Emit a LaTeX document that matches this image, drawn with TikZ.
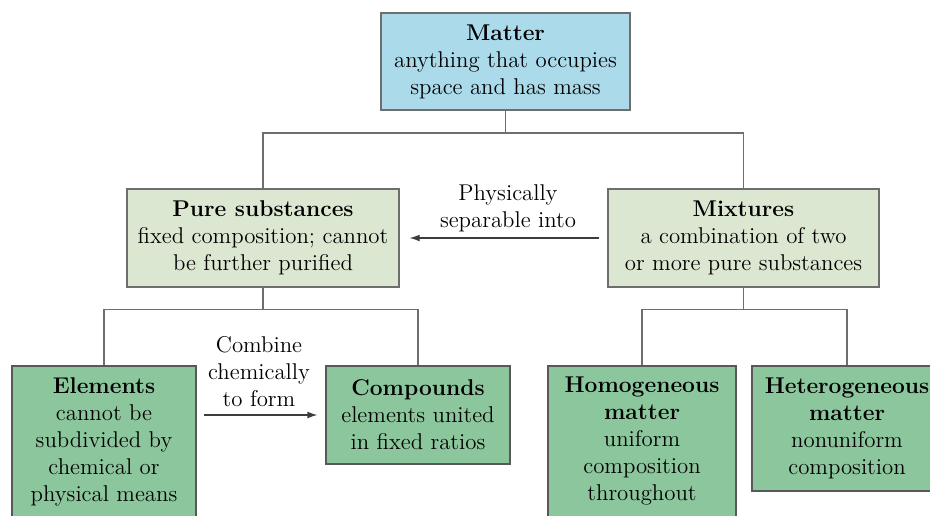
\documentclass[tikz,border=0pt]{standalone}
\usetikzlibrary{arrows.meta,positioning,calc}
\definecolor{celeste}{HTML}{ABDBEB}
\definecolor{verdec}{HTML}{DCE7D1}
\definecolor{verde}{HTML}{8CC69D}
\definecolor{borde}{HTML}{6E6E6E}
\definecolor{linea}{HTML}{3C3C3C}

\begin{document}
\begin{tikzpicture}[x=0.5pt,y=-0.5pt,
  caja/.style={draw=borde,line width=0.6pt,align=center,inner sep=2pt,
               font=\fontsize{11.4}{13.5}\selectfont},
  cajaazul/.style={caja,fill=celeste},
  cajaclara/.style={caja,fill=verdec},
  cajaverde/.style={caja,fill=verde,draw=borde!80!black},
  rama/.style={draw=borde,line width=0.7pt},
  flecha/.style={-{Latex[length=5pt,width=3.4pt]},line width=0.6pt,color=linea},
  etiqueta/.style={align=center,inner sep=0pt,font=\fontsize{11.4}{13.5}\selectfont}]
  \useasboundingbox (0,0) rectangle (930,515);
  \clip (0,0) rectangle (930,515);
  \node[cajaazul,minimum width=124.5pt,minimum height=48.5pt] (materia) at (505.5,61.5)
     {{\bfseries Matter}\\anything that occupies\\space and has mass};
  \node[cajaclara,minimum width=136pt,minimum height=49pt] (puras) at (263,238)
     {{\bfseries Pure substances}\\fixed composition; cannot\\be further purified};
  \node[cajaclara,minimum width=135.5pt,minimum height=49pt] (mezclas) at (743.5,238)
     {{\bfseries Mixtures}\\a combination of two\\or more pure substances};
  \node[cajaverde,minimum width=92pt,minimum height=75.5pt] (elementos) at (104,441.5)
     {{\bfseries Elements}\\cannot be\\subdivided by\\chemical or\\physical means};
  \node[cajaverde,minimum width=92pt,minimum height=49pt] (compuestos) at (418,415)
     {{\bfseries Compounds}\\elements united\\in fixed ratios};
  \node[cajaverde,minimum width=94pt,minimum height=75.5pt] (homogeneo) at (642,441.5)
     {{\bfseries Homogeneous}\\{\bfseries matter}\\uniform\\composition\\throughout};
  \node[cajaverde,minimum width=95pt,minimum height=62.5pt] (heterogeneo) at (847,428.5)
     {{\bfseries Heterogeneous}\\{\bfseries matter}\\nonuniform\\composition};
  % ramas del arbol
  \draw[rama] (materia.south) -- ++(0,22.5) -| (puras.north);
  \draw[rama] (materia.south) -- ++(0,22.5) -| (mezclas.north);
  \draw[rama] (puras.south) -- ++(0,22) -| (elementos.north);
  \draw[rama] (puras.south) -- ++(0,22) -| (compuestos.north);
  \draw[rama] (mezclas.south) -- ++(0,22) -| (homogeneo.north);
  \draw[rama] (mezclas.south) -- ++(0,22) -| (heterogeneo.north);
  % flechas con texto
  \draw[flecha] ([xshift=-4pt]mezclas.west) -- ([xshift=5pt]puras.east);
  \node[etiqueta] (separable) at (508,208.5) {Physically\\separable into};
  \draw[flecha] ($(elementos.east |- compuestos.west)+(3.5pt,0)$) -- ([xshift=-4pt]compuestos.west);
  \node[etiqueta] (combinar) at (259,371.5) {Combine\\chemically\\to form};
\end{tikzpicture}
\end{document}
